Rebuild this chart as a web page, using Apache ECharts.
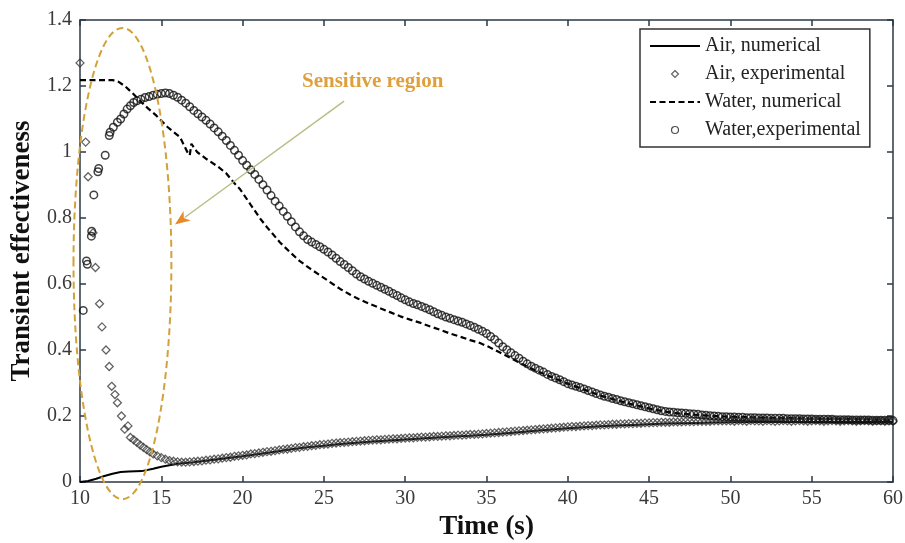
<!DOCTYPE html>
<html>
<head>
<meta charset="utf-8">
<script src="https://cdn.jsdelivr.net/npm/echarts@6/dist/echarts.min.js"></script>
<style>
html,body{margin:0;padding:0;background:#fff;}
#chart{width:905px;height:543px;}
</style>
</head>
<body>
<div id="chart"></div>
<script>
// ---- data ----
var seriesNames = ['Air, numerical', 'Air, experimental', 'Water, numerical', 'Water,experimental'];
var xTicks = [10, 15, 20, 25, 30, 35, 40, 45, 50, 55, 60];
var yTicks = [0, 0.2, 0.4, 0.6, 0.8, 1, 1.2, 1.4];

var airNumerical = [[10,0],[10.5,0.003],[11,0.01],[11.5,0.018],[12,0.025],[12.5,0.03],[13,0.032],[13.8,0.033],[14.5,0.04],[15,0.046],[16,0.055],[17,0.06],[18,0.066],[19,0.072],[20,0.078],[21,0.085],[22,0.092],[23,0.099],[24,0.105],[25,0.11],[26,0.115],[27,0.119],[28,0.123],[29,0.126],[30,0.129],[31,0.132],[32,0.135],[33,0.138],[34,0.14],[35,0.143],[36,0.147],[37,0.151],[38,0.155],[39,0.159],[40,0.163],[41,0.166],[42,0.169],[43,0.171],[44,0.173],[45,0.175],[46,0.177],[47,0.178],[48,0.179],[49,0.18],[50,0.181],[52,0.182],[55,0.182],[58,0.182],[60,0.182]];

var airExperimental = [[10,1.27],[10.35,1.03],[10.5,0.925],[10.8,0.755],[10.95,0.65],[11.2,0.54],[11.35,0.47],[11.6,0.40],[11.8,0.35],[11.95,0.29],[12.15,0.265],[12.3,0.24],[12.55,0.20],[12.75,0.16],[12.95,0.17],[13.1,0.135],[13.3,0.128],[13.5,0.12],[13.7,0.112],[13.9,0.105],[14.1,0.098],[14.3,0.091],[14.5,0.085],[14.75,0.079],[15,0.074],[15.25,0.069],[15.5,0.065],[15.75,0.063],[16,0.061],[16.25,0.06],[16.5,0.06],[16.75,0.061],[17,0.062],[17.25,0.063],[17.5,0.064],[17.75,0.066],[18,0.067],
[18.25,0.069],[18.5,0.07],[18.75,0.072],[19,0.074],[19.25,0.075],[19.5,0.078],[19.75,0.079],[20,0.081],[20.25,0.082],[20.5,0.085],[20.75,0.086],[21,0.088],[21.25,0.09],[21.5,0.092],[21.75,0.093],[22,0.095],[22.25,0.097],[22.5,0.099],[22.75,0.1],[23,0.102],[23.25,0.104],[23.5,0.105],[23.75,0.107],[24,0.108],[24.25,0.11],[24.5,0.111],[24.75,0.113],[25,0.114],[25.25,0.115],[25.5,0.117],[25.75,0.118],[26,0.119],[26.25,0.12],[26.5,0.121],[26.75,0.122],[27,0.123],[27.25,0.124],[27.5,0.125],[27.75,0.126],[28,0.127],[28.25,0.128],[28.5,0.128],[28.75,0.129],[29,0.13],[29.25,0.131],[29.5,0.131],[29.75,0.132],[30,0.133],[30.25,0.134],[30.5,0.134],[30.75,0.135],[31,0.136],[31.25,0.136],[31.5,0.137],[31.75,0.138],[32,0.138],[32.25,0.139],[32.5,0.14],[32.75,0.14],[33,0.141],[33.25,0.142],[33.5,0.142],[33.75,0.143],[34,0.144],[34.25,0.144],[34.5,0.145],[34.75,0.146],[35,0.147],[35.25,0.148],[35.5,0.149],[35.75,0.15],[36,0.151],[36.25,0.152],[36.5,0.153],[36.75,0.154],[37,0.155],[37.25,0.156],[37.5,0.157],[37.75,0.158],[38,0.159],[38.25,0.16],[38.5,0.161],[38.75,0.162],[39,0.163],[39.25,0.164],[39.5,0.165],[39.75,0.166],[40,0.167],[40.25,0.168],[40.5,0.168],[40.75,0.169],[41,0.17],[41.25,0.171],[41.5,0.171],[41.75,0.172],[42,0.173],[42.25,0.173],[42.5,0.174],[42.75,0.175],[43,0.175],[43.25,0.176],[43.5,0.176],[43.75,0.177],[44,0.177],[44.25,0.178],[44.5,0.178],[44.75,0.179],[45,0.179],[45.25,0.18],[45.5,0.18],[45.75,0.181],[46,0.181],[46.25,0.181],[46.5,0.182],[46.75,0.182],[47,0.182],[47.25,0.183],[47.5,0.183],[47.75,0.183],[48,0.184],[48.25,0.184],[48.5,0.184],[48.75,0.184],[49,0.185],[49.25,0.185],[49.5,0.185],[49.75,0.185],[50,0.185],[50.25,0.184],[50.5,0.186],[50.75,0.185],[51,0.184],[51.25,0.186],[51.5,0.185],[51.75,0.185],[52,0.184],[52.25,0.186],[52.5,0.185],[52.75,0.184],[53,0.185],[53.25,0.186],[53.5,0.185],[53.75,0.184],[54,0.185],[54.25,0.186],[54.5,0.185],[54.75,0.184],[55,0.185],[55.25,0.186],[55.5,0.185],[55.75,0.184],[56,0.185],[56.25,0.186],[56.5,0.185],[56.75,0.184],[57,0.185],[57.25,0.186],[57.5,0.185],[57.75,0.184],[58,0.185],[58.25,0.186],[58.5,0.185],[58.75,0.184],[59,0.185],[59.25,0.185],[59.5,0.184],[59.75,0.185],[60,0.184]];

var waterNumerical = [[10,1.218],[11,1.218],[12,1.218],[12.4,1.212],[12.8,1.198],[13.3,1.175],[14,1.14],[14.7,1.11],[15.4,1.075],[16.15,1.045],[16.6,1.0],[16.75,0.99],[16.85,1.025],[17.2,1.0],[17.8,0.978],[18.5,0.955],[19,0.935],[19.5,0.905],[19.85,0.887],[20.5,0.84],[21.1,0.797],[21.5,0.772],[22.3,0.726],[22.9,0.697],[23.5,0.67],[24.2,0.645],[24.8,0.625],[25.4,0.605],[26,0.585],[26.6,0.568],[27.2,0.553],[27.8,0.54],[28.45,0.527],[29.1,0.514],[29.7,0.502],[30.3,0.492],[30.9,0.483],[31.5,0.472],[32.1,0.462],[32.75,0.45],[33.4,0.44],[34,0.43],[34.6,0.421],[35.2,0.408],[35.8,0.393],[36.4,0.378],[36.9,0.365],[37.4,0.352],[37.9,0.34],[38.4,0.33],[38.9,0.32],[39.5,0.308],[40,0.298],[40.5,0.289],[41,0.28],[41.5,0.271],[42,0.262],[42.5,0.255],[43,0.248],[43.5,0.241],[44,0.235],[44.5,0.229],[45,0.223],[45.5,0.218],[46,0.213],[46.5,0.21],[47,0.207],[47.5,0.205],[48,0.203],[49,0.2],[50,0.198],[52,0.195],[55,0.192],[58,0.19],[60,0.188]];

var waterExperimental = [[10.2,0.52],[10.4,0.67],[10.45,0.66],[10.7,0.745],[10.72,0.76],[10.85,0.87],[11.1,0.94],[11.15,0.95],[11.55,0.99],[11.8,1.05],[11.85,1.06],[12.05,1.075],[12.3,1.09],[12.5,1.10],[12.7,1.115],[12.9,1.13],[13.1,1.14],[13.3,1.15],
[13.5,1.155],[13.75,1.16],[14,1.165],[14.25,1.168],[14.5,1.172],[14.75,1.175],[15,1.177],[15.25,1.179],[15.5,1.177],[15.75,1.172],[16,1.166],[16.25,1.157],[16.5,1.148],[16.75,1.137],[17,1.126],[17.25,1.116],[17.5,1.106],[17.75,1.096],[18,1.085],[18.25,1.073],[18.5,1.061],[18.75,1.048],[19,1.035],[19.25,1.02],[19.5,1.005],[19.75,0.99],[20,0.974],[20.25,0.96],[20.5,0.946],[20.75,0.932],[21,0.917],[21.25,0.901],[21.5,0.885],[21.75,0.868],[22,0.851],[22.25,0.836],[22.5,0.82],[22.75,0.805],[23,0.789],[23.25,0.773],[23.5,0.758],[23.75,0.746],[24,0.735],[24.25,0.727],[24.5,0.72],[24.75,0.713],[25,0.705],[25.25,0.697],[25.5,0.688],[25.75,0.678],[26,0.668],[26.25,0.659],[26.5,0.65],[26.75,0.64],[27,0.63],[27.25,0.622],[27.5,0.615],[27.75,0.608],[28,0.602],[28.25,0.596],[28.5,0.59],[28.75,0.584],[29,0.578],[29.25,0.571],[29.5,0.565],[29.75,0.558],[30,0.552],[30.25,0.546],[30.5,0.541],[30.75,0.537],[31,0.532],[31.25,0.527],[31.5,0.522],[31.75,0.516],[32,0.51],[32.25,0.505],[32.5,0.5],[32.75,0.496],[33,0.492],[33.25,0.488],[33.5,0.484],[33.75,0.479],[34,0.474],[34.25,0.469],[34.5,0.463],[34.75,0.457],[35,0.45],[35.25,0.441],[35.5,0.432],[35.75,0.421],[36,0.41],[36.25,0.401],[36.5,0.392],[36.75,0.383],[37,0.375],[37.25,0.366],[37.5,0.358],[37.75,0.351],[38,0.345],[38.25,0.339],[38.5,0.333],[38.75,0.326],[39,0.32],[39.25,0.315],[39.5,0.31],[39.75,0.304],[40,0.298],[40.25,0.294],[40.5,0.29],[40.75,0.286],[41,0.282],[41.25,0.277],[41.5,0.273],[41.75,0.268],[42,0.264],[42.25,0.26],[42.5,0.257],[42.75,0.253],[43,0.25],[43.25,0.246],[43.5,0.243],[43.75,0.24],[44,0.237],[44.25,0.234],[44.5,0.231],[44.75,0.228],[45,0.225],[45.25,0.222],[45.5,0.219],[45.75,0.216],[46,0.214],[46.25,0.212],[46.5,0.211],[46.75,0.21],[47,0.209],[47.25,0.208],[47.5,0.207],[47.75,0.206],[48,0.205],[48.25,0.203],[48.5,0.202],[48.75,0.201],[49,0.2],[49.25,0.199],[49.5,0.198],[49.75,0.198],[50,0.197],[50.25,0.197],[50.5,0.196],[50.75,0.196],[51,0.195],[51.25,0.195],[51.5,0.195],[51.75,0.194],[52,0.194],[52.25,0.194],[52.5,0.193],[52.75,0.193],[53,0.193],[53.25,0.193],[53.5,0.192],[53.75,0.192],[54,0.192],[54.25,0.192],[54.5,0.191],[54.75,0.191],[55,0.191],[55.25,0.19],[55.5,0.19],[55.75,0.19],[56,0.19],[56.25,0.19],[56.5,0.189],[56.75,0.189],[57,0.189],[57.25,0.189],[57.5,0.188],[57.75,0.188],[58,0.188],[58.25,0.188],[58.5,0.188],[58.75,0.187],[59,0.187],[59.25,0.187],[59.5,0.187],[59.75,0.187],[60,0.186]];

// annotation anchors (data coordinates)
var regionLabel = 'Sensitive region';
var regionCenter = [12.61, 0.662];
var regionRadius = [3.01, 0.714];
var arrowFrom = [26.24, 1.154];
var arrowTo = [15.84, 0.78];
var labelAt = [28.0, 1.212];

// ---- chart ----
var serif = 'Liberation Serif, Times New Roman, serif';
var axisColor = '#2b3845';
var chart = echarts.init(document.getElementById('chart'));

function xAx(pos, showLabel) {
  return {
    type: 'value', position: pos, min: xTicks[0], max: xTicks[xTicks.length - 1], interval: 5,
    axisLine: { show: true, onZero: false, lineStyle: { color: axisColor, width: 1.5 } },
    axisTick: { show: true, inside: true, length: 6, lineStyle: { color: axisColor, width: 1.5 } },
    axisLabel: { show: showLabel, fontFamily: serif, fontSize: 20, color: '#3a3a3a', margin: 7 },
    splitLine: { show: false },
    name: showLabel ? 'Time (s)' : '', nameLocation: 'middle', nameGap: 29,
    nameTextStyle: { fontFamily: serif, fontSize: 27, fontWeight: 'bold', color: '#111' }
  };
}
function yAx(pos, showLabel) {
  return {
    type: 'value', position: pos, min: yTicks[0], max: yTicks[yTicks.length - 1], interval: 0.2,
    axisLine: { show: true, onZero: false, lineStyle: { color: axisColor, width: 1.5 } },
    axisTick: { show: true, inside: true, length: 6, lineStyle: { color: axisColor, width: 1.5 } },
    axisLabel: { show: showLabel, fontFamily: serif, fontSize: 20, color: '#3a3a3a', margin: 8 },
    splitLine: { show: false },
    name: showLabel ? 'Transient effectiveness' : '', nameLocation: 'middle', nameGap: 44,
    nameTextStyle: { fontFamily: serif, fontSize: 27, fontWeight: 'bold', color: '#111' }
  };
}

var clear = 'rgba(0,0,0,0)';
var option = {
  animation: false,
  backgroundColor: '#fff',
  grid: { left: 80, right: 12, top: 20, bottom: 61, containLabel: false, outerBoundsMode: 'none' },
  xAxis: [xAx('bottom', true), xAx('top', false)],
  yAxis: [yAx('left', true), yAx('right', false)],
  legend: {
    orient: 'vertical', left: 640, top: 29,
    symbolKeepAspect: true,
    data: [
      { name: seriesNames[0], itemStyle: { color: clear, borderColor: clear, borderWidth: 0, opacity: 0 } },
      { name: seriesNames[1], icon: 'path://M0,-1L1,0L0,1L-1,0Z', itemStyle: { color: clear, borderColor: '#333', borderWidth: 1.1 } },
      { name: seriesNames[2], itemStyle: { color: clear, borderColor: clear, borderWidth: 0, opacity: 0 } },
      { name: seriesNames[3], icon: 'circle', itemStyle: { color: clear, borderColor: '#222', borderWidth: 1.2 } }
    ],
    itemWidth: 50, itemHeight: 7, itemGap: 8,
    padding: [7, 9, 7, 9],
    backgroundColor: '#fff', borderColor: '#333', borderWidth: 1.5,
    textStyle: { fontFamily: serif, fontSize: 20, color: '#222', lineHeight: 20 }
  },
  series: [
    { name: seriesNames[0], type: 'line', data: airNumerical, showSymbol: false, symbol: 'none', z: 3,
      lineStyle: { color: '#000', width: 2 }, itemStyle: { color: '#000' } },
    { name: seriesNames[1], type: 'scatter', data: airExperimental, symbol: 'diamond', symbolSize: 8, symbolKeepAspect: true, z: 4,
      itemStyle: { color: clear, borderColor: '#3a3a3a', borderWidth: 1.25 } },
    { name: seriesNames[2], type: 'line', data: waterNumerical, showSymbol: false, symbol: 'none', z: 3,
      lineStyle: { color: '#000', width: 2.2, type: [6, 3.5] }, itemStyle: { color: '#000' } },
    { name: seriesNames[3], type: 'scatter', data: waterExperimental, symbol: 'circle', symbolSize: 7.5, symbolKeepAspect: true, z: 4,
      itemStyle: { color: clear, borderColor: '#111', borderWidth: 1.5 } }
  ]
};
chart.setOption(option);

// annotations placed from data coordinates
var c = chart.convertToPixel({ gridIndex: 0 }, regionCenter);
var cr = chart.convertToPixel({ gridIndex: 0 }, [regionCenter[0] + regionRadius[0], regionCenter[1] + regionRadius[1]]);
var a0 = chart.convertToPixel({ gridIndex: 0 }, arrowFrom);
var a1 = chart.convertToPixel({ gridIndex: 0 }, arrowTo);
var lp = chart.convertToPixel({ gridIndex: 0 }, labelAt);
var dx = a1[0] - a0[0], dy = a1[1] - a0[1];
var len = Math.sqrt(dx * dx + dy * dy);
var ux = dx / len, uy = dy / len, px = -uy, py = ux;
var headL = 15, headW = 6;
var bx = a1[0] - ux * headL, by = a1[1] - uy * headL;

chart.setOption({
  graphic: [
    { type: 'ellipse', z: 10, silent: true,
      shape: { cx: c[0], cy: c[1], rx: Math.abs(cr[0] - c[0]), ry: Math.abs(c[1] - cr[1]) },
      style: { fill: null, stroke: '#D2A23A', lineWidth: 2, lineDash: [7, 4] } },
    { type: 'line', z: 10, silent: true,
      shape: { x1: a0[0], y1: a0[1], x2: bx + ux * 3, y2: by + uy * 3 },
      style: { stroke: '#B9BC84', lineWidth: 1.4 } },
    { type: 'polygon', z: 11, silent: true,
      shape: { points: [[a1[0], a1[1]], [bx + px * headW, by + py * headW], [bx + ux * 4, by + uy * 4], [bx - px * headW, by - py * headW]] },
      style: { fill: '#E8892A', stroke: null } },
    { type: 'text', z: 11, silent: true, x: lp[0], y: lp[1],
      style: { text: regionLabel, fill: '#DEA03C', font: 'bold 21px ' + serif, align: 'center', verticalAlign: 'middle' } }
  ]
});
</script>
</body>
</html>
